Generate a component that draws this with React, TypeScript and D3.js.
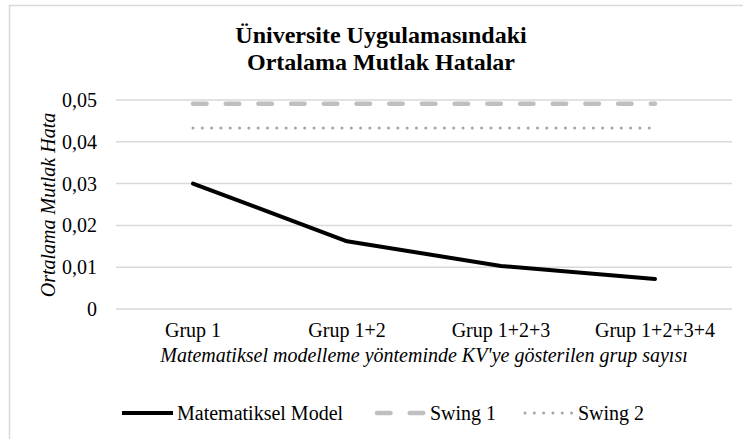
import React, { useEffect, useRef } from 'react';
import * as d3 from 'd3';

// chart data
const categories = ['Grup 1', 'Grup 1+2', 'Grup 1+2+3', 'Grup 1+2+3+4'];
const matematikselModel = [0.03, 0.0162, 0.0103, 0.0072];
const swing1 = [0.0491, 0.0491, 0.0491, 0.0491];
const swing2 = [0.0433, 0.0433, 0.0433, 0.0433];
const yTicks = [0, 0.01, 0.02, 0.03, 0.04, 0.05];

const titleLines = ['Üniversite Uygulamasındaki', 'Ortalama Mutlak Hatalar'];
const xTitle = "Matematiksel modelleme yönteminde KV'ye gösterilen grup sayısı";
const yTitle = 'Ortalama Mutlak Hata';

const FONT = '"Liberation Serif", "Times New Roman", serif';

const App = () => {
  const svgRef = useRef<SVGSVGElement | null>(null);
  const width = 743;
  const height = 439;

  useEffect(() => {
    if (!svgRef.current) return;
    const svg = d3.select(svgRef.current);
    svg.selectAll('*').remove();

    const x = d3.scaleBand<string>().domain(categories).range([116, 732]);
    const y = d3.scaleLinear().domain([0, 0.05]).range([309, 100]);
    const cx = (c: string) => (x(c) as number) + x.bandwidth() / 2;

    // chart border (only top/left inside the picture)
    svg.append('rect')
      .attr('x', 9.5)
      .attr('y', 5.5)
      .attr('width', 760)
      .attr('height', 460)
      .attr('fill', '#fff')
      .attr('stroke', '#d9d9d9')
      .attr('stroke-width', 1.5);

    // title
    titleLines.forEach((t, i) => {
      svg.append('text')
        .attr('x', 381)
        .attr('y', 43 + i * 27)
        .attr('text-anchor', 'middle')
        .attr('font-family', FONT)
        .attr('font-weight', 'bold')
        .attr('font-size', 24)
        .attr('fill', '#000')
        .text(t);
    });

    // gridlines + y labels
    yTicks.forEach(v => {
      svg.append('line')
        .attr('x1', 116)
        .attr('x2', 732)
        .attr('y1', y(v))
        .attr('y2', y(v))
        .attr('stroke', '#d9d9d9')
        .attr('stroke-width', 1.5);
      svg.append('text')
        .attr('x', 97)
        .attr('y', y(v))
        .attr('dy', '0.35em')
        .attr('text-anchor', 'end')
        .attr('font-family', FONT)
        .attr('font-size', 20)
        .attr('fill', '#000')
        .text(v === 0 ? '0' : v.toFixed(2).replace('.', ','));
    });

    // x labels
    categories.forEach(c => {
      svg.append('text')
        .attr('x', cx(c))
        .attr('y', 337)
        .attr('text-anchor', 'middle')
        .attr('font-family', FONT)
        .attr('font-size', 20)
        .attr('fill', '#000')
        .text(c);
    });

    // axis titles
    svg.append('text')
      .attr('x', 424)
      .attr('y', 362)
      .attr('text-anchor', 'middle')
      .attr('font-family', FONT)
      .attr('font-style', 'italic')
      .attr('font-size', 20)
      .attr('fill', '#000')
      .text(xTitle);

    svg.append('text')
      .attr('transform', 'translate(55,205) rotate(-90)')
      .attr('text-anchor', 'middle')
      .attr('font-family', FONT)
      .attr('font-style', 'italic')
      .attr('font-size', 20)
      .attr('fill', '#000')
      .text(yTitle);

    const series = [
      { name: 'Swing 1', values: swing1, color: '#bfbfbf', width: 4.5, dash: '13.5 19.2', cap: 'round' },
      { name: 'Swing 2', values: swing2, color: '#a6a6a6', width: 3, dash: '0.01 9.3', cap: 'round' },
      { name: 'Matematiksel Model', values: matematikselModel, color: '#000', width: 4, dash: null, cap: 'round' },
    ];

    const line = d3.line<number>()
      .x((_, i) => cx(categories[i]))
      .y(d => y(d));

    series.forEach(s => {
      svg.append('path')
        .datum(s.values)
        .attr('d', line)
        .attr('fill', 'none')
        .attr('stroke', s.color)
        .attr('stroke-width', s.width)
        .attr('stroke-linecap', s.cap)
        .attr('stroke-linejoin', 'round')
        .attr('stroke-dasharray', s.dash);
    });

    // legend
    const legendOrder = [series[2], series[0], series[1]];
    const legendX = [122, 375, 523];
    legendOrder.forEach((s, i) => {
      const lx = legendX[i];
      svg.append('line')
        .attr('x1', lx + (s.dash ? 2 : 0))
        .attr('x2', lx + 51)
        .attr('y1', 413)
        .attr('y2', 413)
        .attr('stroke', s.color)
        .attr('stroke-width', s.width)
        .attr('stroke-linecap', s.dash ? 'round' : 'butt')
        .attr('stroke-dasharray', s.dash);
      svg.append('text')
        .attr('x', lx + 55)
        .attr('y', 413)
        .attr('dy', '0.35em')
        .attr('font-family', FONT)
        .attr('font-size', 20)
        .attr('fill', '#000')
        .text(s.name);
    });
  }, []);

  return (
    <div style={{ position: 'absolute', left: 0, top: 0, width: `${width}px`, height: `${height}px`, overflow: 'hidden', background: '#fff' }}>
      <svg ref={svgRef} width={width} height={height}></svg>
    </div>
  );
};

export default App;
